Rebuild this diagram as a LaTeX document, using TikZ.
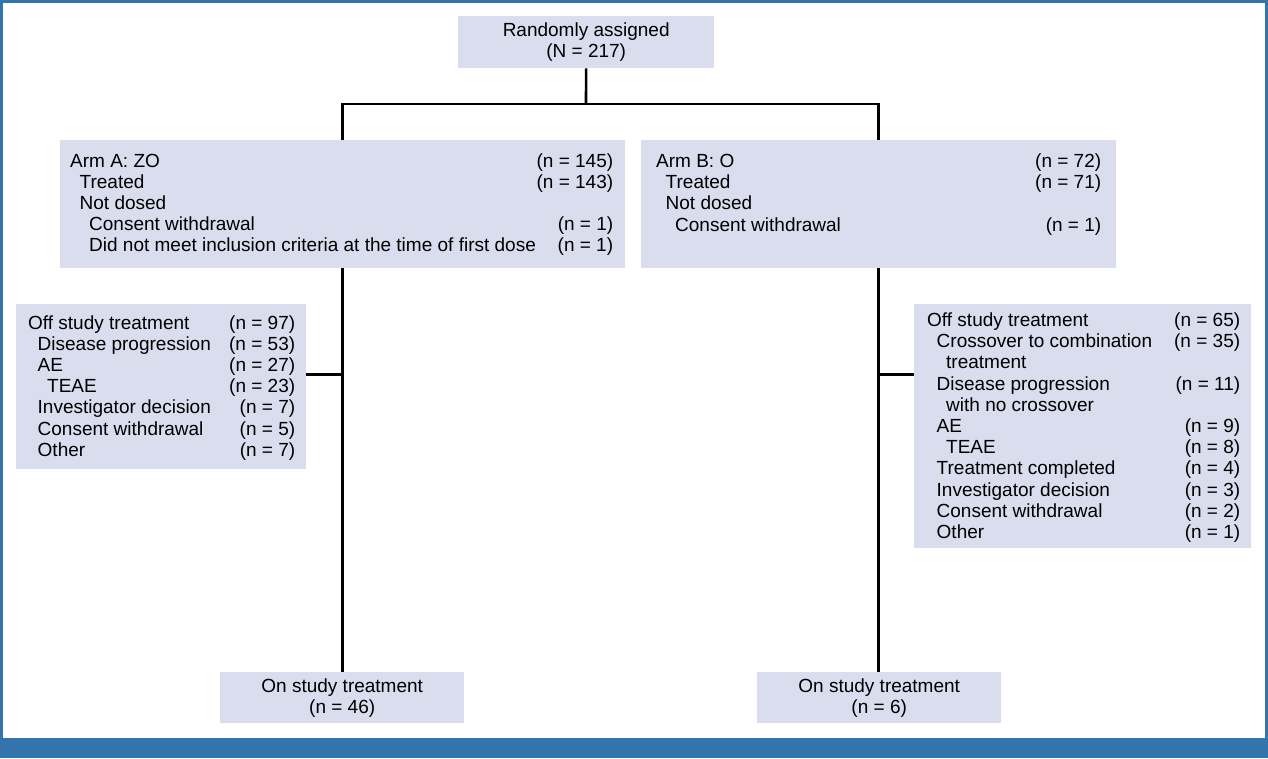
\documentclass[tikz,border=0pt]{standalone}
\usepackage{fontspec}
\setmainfont{Liberation Sans}
\definecolor{framebl}{HTML}{3474AD}
\definecolor{boxfill}{HTML}{D9DDEE}
\newcommand{\ia}{\hspace*{9.5pt}}
\newcommand{\ib}{\hspace*{19pt}}
\tikzset{
	panel/.style={fill=boxfill,anchor=north west,inner sep=0pt},
	rows/.style={anchor=base west,inner sep=0pt},
	link/.style={line width=2.6pt}
}
\begin{document}
\begin{tikzpicture}[x=1pt,y=-1pt,font=\fontsize{19}{21.2}\selectfont]
		\useasboundingbox (0,0) rectangle (1268,758);
		% frame and bottom bar
		\fill[framebl] (0,0) rectangle (1268,758);
		\fill[white] (2.5,2.5) rectangle (1265,737.5);
		% boxes
		\node[panel,minimum width=256pt,minimum height=52pt,align=center] (rand) at (458,16) {Randomly assigned\\(N = 217)};
		\node[panel,minimum width=565pt,minimum height=128pt] (armA) at (60,140) {};
		\node[panel,minimum width=475pt,minimum height=128pt] (armB) at (641,140) {};
		\node[panel,minimum width=290pt,minimum height=165pt] (offA) at (16,304) {};
		\node[panel,minimum width=337pt,minimum height=244pt] (offB) at (914,304) {};
		\node[panel,minimum width=244pt,minimum height=51pt,align=center] (onA) at (220,672) {On study treatment\\(n = 46)};
		\node[panel,minimum width=244pt,minimum height=51pt,align=center] (onB) at (757,672) {On study treatment\\(n = 6)};
		% box texts
		\node[rows] (armAtxt) at (70,167) {\begin{tabular*}{543pt}[t]{@{}l@{\extracolsep{\fill}}r@{}}
			Arm A: ZO & (n = 145)\\
			\ia Treated & (n = 143)\\
			\ia Not dosed & \\
			\ib Consent withdrawal & (n = 1)\\
			\ib Did not meet inclusion criteria at the time of first dose & (n = 1)
		\end{tabular*}};
		\node[rows] (armBtxt) at (656,167.5) {\begin{tabular*}{445pt}[t]{@{}l@{\extracolsep{\fill}}r@{}}
			Arm B: O & (n = 72)\\
			\ia Treated & (n = 71)\\
			\ia Not dosed & \\
			\ib Consent withdrawal & (n = 1)
		\end{tabular*}};
		\node[rows] (offAtxt) at (28,329) {\begin{tabular*}{267pt}[t]{@{}l@{\extracolsep{\fill}}r@{}}
			Off study treatment & (n = 97)\\
			\ia Disease progression & (n = 53)\\
			\ia AE & (n = 27)\\
			\ib TEAE & (n = 23)\\
			\ia Investigator decision & (n = 7)\\
			\ia Consent withdrawal & (n = 5)\\
			\ia Other & (n = 7)
		\end{tabular*}};
		\node[rows] (offBtxt) at (927,326.5) {\begin{tabular*}{313pt}[t]{@{}l@{\extracolsep{\fill}}r@{}}
			Off study treatment & (n = 65)\\
			\ia Crossover to combination & (n = 35)\\
			\ib treatment & \\
			\ia Disease progression & (n = 11)\\
			\ib with no crossover & \\
			\ia AE & (n = 9)\\
			\ib TEAE & (n = 8)\\
			\ia Treatment completed & (n = 4)\\
			\ia Investigator decision & (n = 3)\\
			\ia Consent withdrawal & (n = 2)\\
			\ia Other & (n = 1)
		\end{tabular*}};
		% connectors
		\coordinate (split) at (586,104);
		\coordinate (brA) at (342.5,374.5);
		\coordinate (brB) at (878.5,374.5);
		\draw[link] (rand) -- (split);
		\draw[link] (armA.north) |- (split) -| (armB.north);
		\draw[link] (armA.south) -- (armA.south |- onA.north);
		\draw[link] (armB.south) -- (armB.south |- onB.north);
		\draw[link] (offA.east |- brA) -- (brA);
		\draw[link] (offB.west |- brB) -- (brB);
\end{tikzpicture}
\end{document}
